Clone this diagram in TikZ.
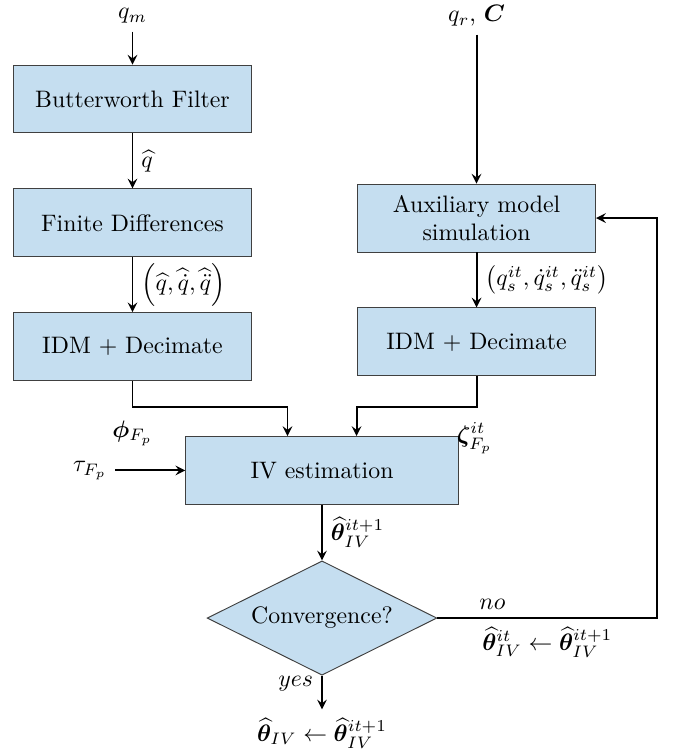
\documentclass[tikz,border=0pt]{standalone}
\usepackage{amsmath}
\usepackage{bm}
\usepackage{tikz}
\usetikzlibrary{positioning, arrows, shapes, calc}
\usetikzlibrary{shapes.geometric,arrows}
\definecolor{boxblue}{RGB}{197,222,240}
\tikzstyle{arrow} = [thick,->,>=stealth]
\tikzstyle{block} = [rectangle, minimum width=100pt, minimum height=28.5pt, text centered, draw=black!75, fill=boxblue]
\tikzstyle{wideblock} = [block, minimum width=114.5pt]
\tikzstyle{decision} = [diamond, shape aspect=2.1, minimum width=96.5pt, minimum height=48pt, inner sep=0pt, text centered, draw=black!75, fill=boxblue]

\begin{document}
\begin{tikzpicture}[x=0.42pt, y=0.42pt, node distance=52pt]
        \useasboundingbox (0,0) rectangle (675,-754);

        \node (bw) [block] at (132.5,-99) {Butterworth Filter};
        \node (fd) [block, below of=bw] {Finite Differences};
        \node (idmL) [block, below of=fd] {IDM + Decimate};
        \node (aux) [block, right of=fd, xshift=92.5pt, yshift=2pt, align=center] {Auxiliary model\\simulation};
        \node (idmR) [block, below of=aux] {IDM + Decimate};
        \node (iv) [wideblock, below of=idmL, xshift=79.6pt] {IV estimation};
        \node (conv) [decision, below of=iv, yshift=-10pt] {Convergence?};
        \node (out) [below of=conv, yshift=3.7pt] {$\widehat{\boldsymbol{\theta}}_{IV} \leftarrow \widehat{\boldsymbol{\theta}}_{IV}^{it+1}$};

        \node (qm) [above of=bw, node distance=35pt] {$q_m$};
        \node (qr) [above of=aux, node distance=85pt] {$q_r$, $\boldsymbol{C}$};
        \node (tau) [left of=iv, node distance=97.5pt] {$\tau_{F_p}$};
        \node (zeta) [right, inner sep=0pt, xshift=-1pt, yshift=-1pt] at (iv.north east) {$\boldsymbol{\zeta}_{F_p}^{it}$};

        \draw [arrow] (qm) -- (bw);
        \draw [arrow] (bw) -- node[right]{$\widehat{q}$} (fd);
        \draw [arrow] (fd) -- node[right]{$\left(\widehat{q}, \widehat{\dot{q}}, \widehat{\ddot{q}}\right)$} (idmL);
        \draw [arrow] (qr) -- (aux);
        \draw [arrow] (aux) -- node[right]{$\left(q_s^{it}, \dot{q}_s^{it}, \ddot{q}_s^{it}\right)$} (idmR);
        \draw [arrow] (idmL.south) -- ++(0,-26) node[below, yshift=-2pt]{$\boldsymbol{\phi}_{F_p}$} -| ([xshift=-14.5pt]iv.north);
        \draw [arrow] (idmR.south) -- ++(0,-31) -| ([xshift=14.5pt]iv.north);
        \draw [arrow] (tau) -- (iv);
        \draw [arrow] (iv) -- node[right]{$\widehat{\boldsymbol{\theta}}_{IV}^{it+1}$} (conv);
        \draw [arrow] (conv.east) -- node[above, pos=0.25]{$no$} node[below]{$\widehat{\boldsymbol{\theta}}_{IV}^{it} \leftarrow \widehat{\boldsymbol{\theta}}_{IV}^{it+1}$} ++(220,0) |- (aux.east);
        \draw [arrow] (conv) -- node[left, pos=0.25]{$yes$} (out);

        \end{tikzpicture}
\end{document}
